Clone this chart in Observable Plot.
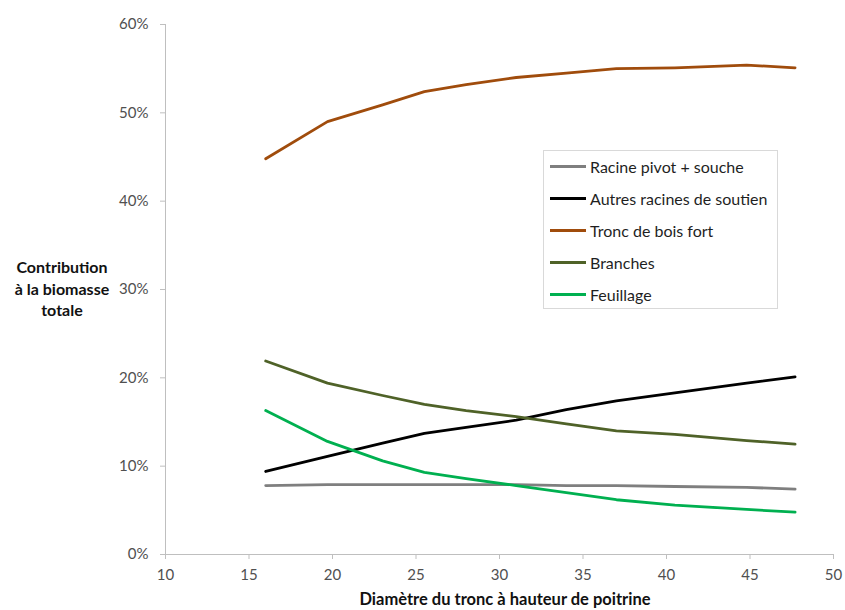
<!DOCTYPE html>
<html>
<head>
<meta charset="utf-8">
<script src="https://cdn.jsdelivr.net/npm/d3@7"></script>
<script src="https://cdn.jsdelivr.net/npm/@observablehq/plot@0.6"></script>
<style>
  body { margin: 0; background: #fff; }
  #wrap { position: relative; width: 845px; height: 610px; font-family: Lato, "Open Sans", sans-serif; }
  #ytitle { position: absolute; left: 0px; top: 256px; width: 124px; text-align: center; font-weight: bold; font-size: 16px; line-height: 21.5px; color: #111; }
  #xtitle { position: absolute; left: 165px; width: 680px; top: 590px; text-align: center; font-weight: bold; font-size: 16.5px; line-height: 18px; color: #111; }
  #legend { position: absolute; left: 543px; top: 150px; width: 235px; height: 159px; border: 1px solid #d9d9d9; background: #fff; box-sizing: border-box; }
  .row { position: absolute; left: 6px; height: 20px; display: flex; align-items: center; font-size: 16px; color: #1f1f1f; white-space: nowrap; }
  .sw { width: 36px; height: 3px; margin-right: 4px; }
</style>
</head>
<body>
<div id="wrap"></div>
<script>
const diameters = [16, 19.7, 23, 25.5, 28, 31, 34, 37, 40.5, 44.8, 47.7];
const seriesNames = ["Racine pivot + souche", "Autres racines de soutien", "Tronc de bois fort", "Branches", "Feuillage"];
const seriesColors = ["#7f7f7f", "#000000", "#a04c0c", "#4f6228", "#00b050"];
const racinePivot = [7.8, 7.9, 7.9, 7.9, 7.9, 7.9, 7.8, 7.8, 7.7, 7.6, 7.4];
const autresRacines = [9.4, 11.1, 12.6, 13.7, 14.4, 15.2, 16.4, 17.4, 18.3, 19.4, 20.1];
const tronc = [44.8, 49.0, 50.9, 52.4, 53.2, 54.0, 54.5, 55.0, 55.1, 55.4, 55.1];
const branches = [21.9, 19.4, 18.0, 17.0, 16.3, 15.6, 14.8, 14.0, 13.6, 12.9, 12.5];
const feuillage = [16.3, 12.8, 10.6, 9.3, 8.6, 7.8, 7.0, 6.2, 5.6, 5.1, 4.8];
const yTicks = [0, 10, 20, 30, 40, 50, 60];
const xTicks = [10, 15, 20, 25, 30, 35, 40, 45, 50];

const allSeries = [racinePivot, autresRacines, tronc, branches, feuillage];
const data = [];
allSeries.forEach((vals, i) => vals.forEach((v, j) => data.push({serie: seriesNames[i], x: diameters[j], y: v})));

const axisColor = "#bfbfbf";
const chart = Plot.plot({
  width: 845, height: 610,
  marginLeft: 165, marginRight: 12, marginTop: 24, marginBottom: 56,
  style: { fontFamily: "Lato, 'Open Sans', sans-serif", fontSize: "15px", color: "#595959", background: "#fff" },
  x: { domain: [10, 50] },
  y: { domain: [0, 60] },
  color: { domain: seriesNames, range: seriesColors },
  marks: [
    Plot.ruleX([10], { stroke: axisColor, strokeWidth: 1 }),
    Plot.ruleY([0], { stroke: axisColor, strokeWidth: 1 }),
    Plot.axisY({ ticks: yTicks, tickFormat: d => d + "%", tickSize: 5, tickPadding: 12, stroke: axisColor, fill: "#505050", label: null }),
    Plot.axisX({ ticks: xTicks, tickFormat: d => String(d), tickSize: 5, tickPadding: 10, stroke: axisColor, fill: "#505050", label: null }),
    Plot.line(data, { x: "x", y: "y", z: "serie", stroke: "serie", strokeWidth: 2.8, curve: "linear" })
  ]
});

const wrap = document.getElementById("wrap");
wrap.appendChild(chart);

const yt = document.createElement("div");
yt.id = "ytitle";
yt.innerHTML = "Contribution<br>à la biomasse<br>totale";
wrap.appendChild(yt);

const xt = document.createElement("div");
xt.id = "xtitle";
xt.textContent = "Diamètre du tronc à hauteur de poitrine";
wrap.appendChild(xt);

const lg = document.createElement("div");
lg.id = "legend";
seriesNames.forEach((n, i) => {
  const r = document.createElement("div");
  r.className = "row";
  r.style.top = (5 + i * 32.2) + "px";
  const sw = document.createElement("div");
  sw.className = "sw";
  sw.style.background = seriesColors[i];
  const t = document.createElement("span");
  t.textContent = n;
  r.appendChild(sw); r.appendChild(t);
  lg.appendChild(r);
});
wrap.appendChild(lg);
</script>
</body>
</html>
